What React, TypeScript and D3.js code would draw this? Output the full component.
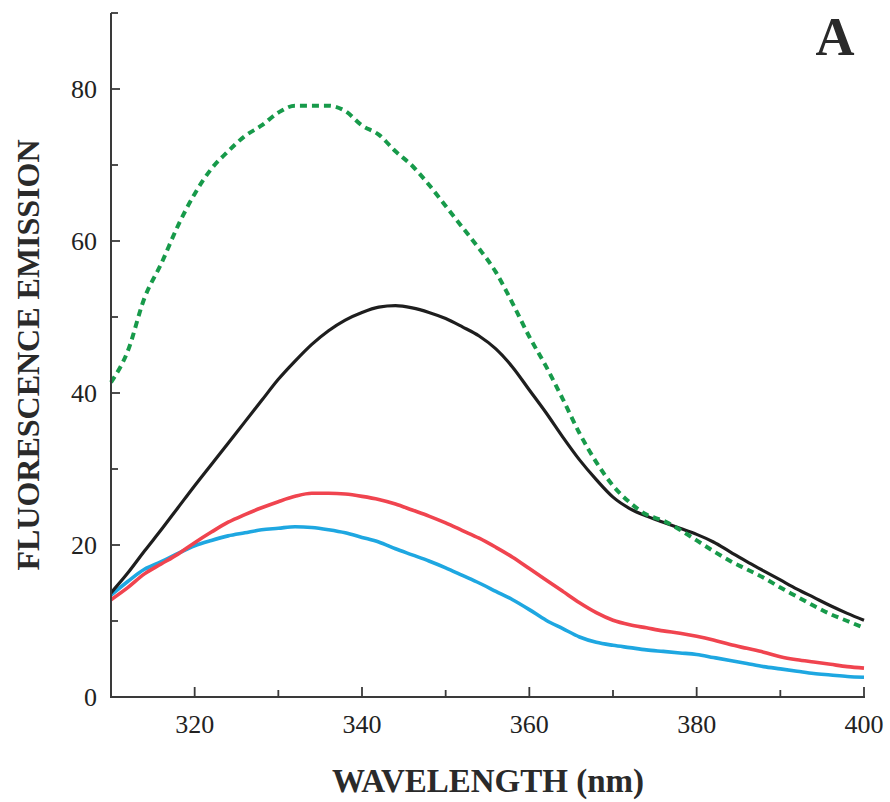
import React from "react";
import * as d3 from "d3";

const wavelengths = d3.range(310, 401, 2);

const greenValues = [41.4, 45.5, 52.5, 57.0, 62.0, 66.2, 69.5, 71.8, 73.8, 75.2, 76.9, 77.8, 77.8, 77.8, 77.1, 75.2, 74.0, 71.8, 69.9, 67.4, 64.6, 61.8, 59.0, 55.9, 51.8, 47.4, 43.5, 39.2, 34.7, 30.9, 27.8, 25.6, 24.0, 23.2, 22.0, 20.6, 19.2, 17.9, 16.8, 15.7, 14.4, 13.2, 12.0, 10.9, 10.0, 9.1];
const blackValues = [13.7, 16.3, 19.2, 22.0, 24.9, 27.8, 30.6, 33.4, 36.2, 39.0, 41.8, 44.2, 46.4, 48.2, 49.6, 50.6, 51.3, 51.5, 51.2, 50.6, 49.8, 48.7, 47.5, 45.8, 43.4, 40.4, 37.4, 34.2, 31.2, 28.6, 26.3, 24.8, 23.8, 23.0, 22.2, 21.4, 20.4, 19.1, 17.8, 16.6, 15.4, 14.2, 13.1, 12.0, 11.0, 10.1];
const redValues = [12.8, 14.4, 16.2, 17.5, 18.8, 20.3, 21.7, 23.0, 24.0, 24.9, 25.7, 26.4, 26.8, 26.8, 26.7, 26.4, 26.0, 25.4, 24.6, 23.8, 22.9, 21.9, 20.9, 19.7, 18.4, 16.9, 15.4, 13.9, 12.4, 11.1, 10.1, 9.5, 9.1, 8.7, 8.4, 8.0, 7.5, 6.9, 6.4, 5.9, 5.3, 4.9, 4.6, 4.3, 4.0, 3.8];
const blueValues = [13.4, 15.2, 16.8, 17.8, 18.9, 19.9, 20.6, 21.2, 21.6, 22.0, 22.2, 22.4, 22.3, 22.0, 21.6, 21.0, 20.4, 19.5, 18.7, 17.9, 17.0, 16.0, 15.0, 13.9, 12.8, 11.5, 10.1, 9.0, 7.9, 7.2, 6.8, 6.5, 6.2, 6.0, 5.8, 5.6, 5.2, 4.8, 4.4, 4.0, 3.7, 3.4, 3.1, 2.9, 2.7, 2.6];

const xMajorTicks = [320, 340, 360, 380, 400];
const xMinorTicks = [330, 350, 370, 390];
const yMajorTicks = [0, 20, 40, 60, 80];
const yMinorTicks = [10, 30, 50, 70, 90];

const xTitle = "WAVELENGTH (nm)";
const yTitle = "FLUORESCENCE EMISSION";
const panelLabel = "A";

const W = 890;
const H = 802;
const left = 111;
const right = 864;
const bottom = 697;
const top = 13;

export default function App() {
  const x = d3.scaleLinear().domain([310, 400]).range([left, right]);
  const y = d3.scaleLinear().domain([0, 90]).range([bottom, top]);

  const mk = (vals: number[], curve: d3.CurveFactory) =>
    d3
      .line<number>()
      .x((_, i) => x(wavelengths[i]))
      .y((v) => y(v))
      .curve(curve)(vals) || "";

  const font = "'Liberation Serif', 'Times New Roman', serif";
  const axisColor = "#3a3a3a";

  return (
    <svg
      width={W}
      height={H}
      style={{ position: "absolute", left: 0, top: 0, background: "#fff" }}
      fontFamily={font}
    >
      <rect x={0} y={0} width={W} height={H} fill="#fff" />
      {/* curves */}
      <path d={mk(blueValues, d3.curveMonotoneX)} fill="none" stroke="#1ea7e1" strokeWidth={3.6} />
      <path d={mk(redValues, d3.curveMonotoneX)} fill="none" stroke="#f0444f" strokeWidth={3.6} />
      <path d={mk(blackValues, d3.curveMonotoneX)} fill="none" stroke="#1e1e1e" strokeWidth={3.2} />
      <path
        d={mk(greenValues, d3.curveMonotoneX)}
        fill="none"
        stroke="#179a4a"
        strokeWidth={4}
        strokeDasharray="7 5"
      />

      {/* axes */}
      <line x1={left} y1={top} x2={left} y2={bottom + 1} stroke={axisColor} strokeWidth={2} />
      <line x1={left - 1} y1={bottom} x2={right + 1} y2={bottom} stroke={axisColor} strokeWidth={2} />

      {xMajorTicks.map((t) => (
        <g key={"xM" + t}>
          <line x1={x(t)} x2={x(t)} y1={bottom} y2={bottom - 10} stroke={axisColor} strokeWidth={1.8} />
          <text x={x(t)} y={733} fontSize={26} textAnchor="middle" fill="#222">
            {t}
          </text>
        </g>
      ))}
      {xMinorTicks.map((t) => (
        <line key={"xm" + t} x1={x(t)} x2={x(t)} y1={bottom} y2={bottom - 7} stroke={axisColor} strokeWidth={1.8} />
      ))}
      {yMajorTicks.map((t) => (
        <g key={"yM" + t}>
          <line x1={left} x2={left + 9} y1={y(t)} y2={y(t)} stroke={axisColor} strokeWidth={1.8} />
          <text x={97} y={y(t)} dy="0.35em" fontSize={26} textAnchor="end" fill="#222">
            {t}
          </text>
        </g>
      ))}
      {yMinorTicks.map((t) => (
        <line key={"ym" + t} x1={left} x2={left + 7} y1={y(t)} y2={y(t)} stroke={axisColor} strokeWidth={1.8} />
      ))}

      {/* titles */}
      <text x={488} y={792} fontSize={33} fontWeight="bold" textAnchor="middle" fill="#2a2a2a">
        {xTitle}
      </text>
      <text
        transform={`translate(39, 355) rotate(-90)`}
        fontSize={32}
        fontWeight="bold"
        textAnchor="middle"
        fill="#2a2a2a"
      >
        {yTitle}
      </text>
      <text x={835} y={55} fontSize={54} fontWeight="bold" textAnchor="middle" fill="#2a2a2a">
        {panelLabel}
      </text>
    </svg>
  );
}
